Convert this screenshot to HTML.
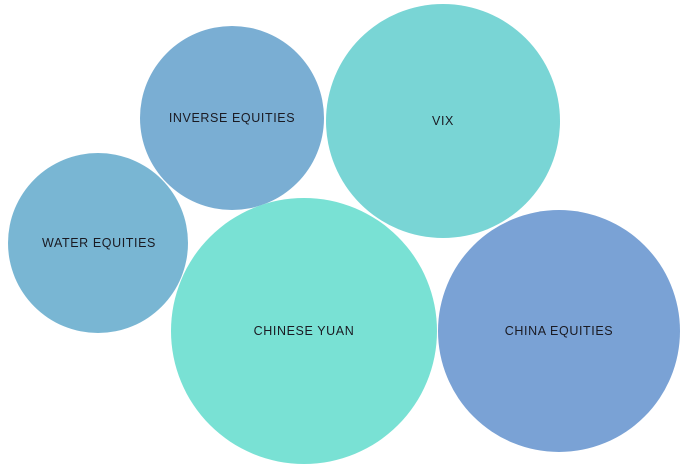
<!DOCTYPE html>
<html><head><style>
html,body{margin:0;padding:0;background:#fff;width:688px;height:471px;overflow:hidden}
svg text{font-family:"Liberation Sans",sans-serif;font-size:12.5px;fill:#1a1a22;text-anchor:middle;dominant-baseline:central;letter-spacing:0.6px}
</style></head><body>
<svg width="688" height="471" viewBox="0 0 688 471">
<circle cx="232" cy="118" r="92" fill="#7aaed3"/>
<circle cx="443" cy="121" r="117" fill="#79d5d5"/>
<circle cx="98" cy="243" r="90" fill="#79b6d3"/>
<circle cx="304" cy="331" r="133" fill="#79e1d4"/>
<circle cx="559" cy="331" r="121" fill="#7aa2d5"/>
<text x="232" y="118">INVERSE EQUITIES</text>
<text x="443" y="121">VIX</text>
<text x="99" y="243">WATER EQUITIES</text>
<text x="304" y="331">CHINESE YUAN</text>
<text x="559" y="331">CHINA EQUITIES</text>
</svg>
</body></html>
